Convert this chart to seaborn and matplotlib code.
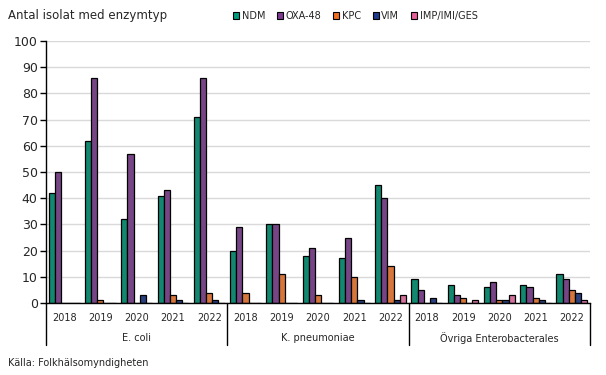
import matplotlib
matplotlib.use("Agg")
import matplotlib.pyplot as plt
from matplotlib.patches import Patch
import seaborn as sns
import pandas as pd

# Data
groups = ["E. coli", "K. pneumoniae", "Övriga Enterobacterales"]
years = ["2018", "2019", "2020", "2021", "2022"]
enzymes = ["NDM", "OXA-48", "KPC", "VIM", "IMP/IMI/GES"]

ndm = [42, 62, 32, 41, 71, 20, 30, 18, 17, 45, 9, 7, 6, 7, 11]
oxa48 = [50, 86, 57, 43, 86, 29, 30, 21, 25, 40, 5, 3, 8, 6, 9]
kpc = [0, 1, 0, 3, 4, 4, 11, 3, 10, 14, 0, 2, 1, 2, 5]
vim = [0, 0, 3, 1, 1, 0, 0, 0, 1, 1, 2, 0, 1, 1, 4]
imp = [0, 0, 0, 0, 0, 0, 0, 0, 0, 3, 0, 1, 3, 0, 1]

colors = ["#009B7D", "#7D3A91", "#F07022", "#1E3A8A", "#E5609B"]

slots = [f"{g} {y}" for g in groups for y in years]
rows = []
for name, vals in zip(enzymes, [ndm, oxa48, kpc, vim, imp]):
    for s, v in zip(slots, vals):
        rows.append({"slot": s, "enzym": name, "antal": v})
df = pd.DataFrame(rows)

sns.set_style("white")
plt.rcParams["font.family"] = ["DejaVu Sans"]

fig = plt.figure(figsize=(6.06, 3.75), dpi=100)
ax = fig.add_axes([46 / 606, 72 / 375, 544 / 606, 262 / 375])

sns.barplot(data=df, x="slot", y="antal", hue="enzym", order=slots,
            hue_order=enzymes, palette=colors, edgecolor="black",
            linewidth=0.9, width=0.85, ax=ax, legend=False)

ax.set_ylim(0, 100)
ax.set_xlim(-0.5, len(slots) - 0.5)
ax.set_yticks(range(0, 101, 10))
ax.yaxis.grid(True, color="#D9D9D9", linewidth=1)
ax.set_axisbelow(True)
ax.tick_params(axis="y", labelsize=9, length=4, direction="out", left=True,
               width=1, color="black", pad=2)
ax.set_xticks(range(len(slots)))
ax.set_xticklabels(years * len(groups), fontsize=7)
ax.tick_params(axis="x", length=0, pad=7)
ax.set_xlabel("")
ax.set_ylabel("")
for side in ["top", "right"]:
    ax.spines[side].set_visible(False)
for side in ["left", "bottom"]:
    ax.spines[side].set_color("black")
    ax.spines[side].set_linewidth(1)

# two-level category axis
trans = ax.get_xaxis_transform()
for b in [-0.5, 4.5, 9.5, 14.5]:
    ax.plot([b, b], [0, -0.16], transform=trans, color="black",
            linewidth=1, clip_on=False)
for i, g in enumerate(groups):
    ax.text(i * 5 + 2, -0.135, g, transform=trans, ha="center", va="center",
            fontsize=7)

fig.text(8 / 606, 1 - 16 / 375, "Antal isolat med enzymtyp", fontsize=8.5,
         ha="left", va="center")
fig.text(8 / 606, 1 - 363 / 375, "Källa: Folkhälsomyndigheten", fontsize=7,
         ha="left", va="center")

handles = [Patch(facecolor=c, edgecolor="black", linewidth=0.8, label=e)
           for c, e in zip(colors, enzymes)]
fig.legend(handles=handles, loc="center left",
           bbox_to_anchor=(229 / 606, 1 - 16 / 375), ncol=5, frameon=False,
           fontsize=7, handlelength=0.65, handleheight=0.65,
           handletextpad=0.25, columnspacing=1.2, borderaxespad=0)

fig.savefig("out.png", dpi=100)
